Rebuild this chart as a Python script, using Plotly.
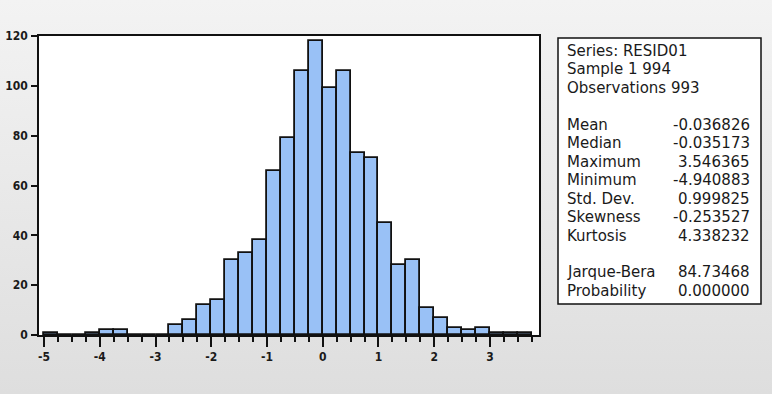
import base64
import plotly.graph_objects as go

# ---------------- data ----------------
bin_left_edges = [-5.00, -4.75, -4.50, -4.25, -4.00, -3.75, -3.50, -3.25, -3.00, -2.75,
                  -2.50, -2.25, -2.00, -1.75, -1.50, -1.25, -1.00, -0.75, -0.50, -0.25,
                  0.00, 0.25, 0.50, 0.75, 1.00, 1.25, 1.50, 1.75, 2.00, 2.25,
                  2.50, 2.75, 3.00, 3.25, 3.50]
bin_counts = [1, 0, 0, 1, 2, 2, 0, 0, 0, 4,
              6, 12, 14, 30, 33, 38, 66, 79, 106, 118,
              99, 106, 73, 71, 45, 28, 30, 11, 7, 3,
              2, 3, 1, 1, 1]
bin_width = 0.25

x_tick_vals = [-5, -4, -3, -2, -1, 0, 1, 2, 3]
x_tick_text = ["-5", "-4", "-3", "-2", "-1", "0", "1", "2", "3"]
y_tick_vals = [0, 20, 40, 60, 80, 100, 120]
y_tick_text = ["0", "20", "40", "60", "80", "100", "120"]

header_lines = ["Series: RESID01", "Sample 1 994", "Observations 993"]
stat_labels = ["Mean", "Median", "Maximum", "Minimum", "Std. Dev.", "Skewness", "Kurtosis"]
stat_values = ["-0.036826", "-0.035173", "3.546365", "-4.940883", "0.999825", "-0.253527", "4.338232"]
test_labels = ["Jarque-Bera", "Probability"]
test_values = ["84.73468", "0.000000"]

# ---------------- layout geometry (pixels) ----------------
W, H = 772, 394
PL, PR, PT, PB = 39, 539, 36, 335  # plot area box in pixels
PW, PH = PR - PL, PB - PT


def px_x(px):
    return (px - PL) / PW


def px_y(py):
    return (PB - py) / PH


fig = go.Figure()

fig.add_trace(go.Bar(
    x=bin_left_edges,
    y=bin_counts,
    width=bin_width,
    offset=0,
    marker=dict(color="#99c1f6", line=dict(color="#111111", width=1.8)),
    hoverinfo="x+y",
    showlegend=False,
))

tick_font = dict(family="DejaVu Sans Condensed, Liberation Sans Narrow, DejaVu Sans",
                 size=12, color="#1a1a1a", weight="bold")

fig.update_xaxes(
    range=[-5.09, 3.88],
    automargin=False,
    tickmode="array", tickvals=x_tick_vals, ticktext=x_tick_text,
    ticks="outside", ticklen=10, tickwidth=1.5, tickcolor="#111111",
    minor=dict(ticks="outside", ticklen=5, tickwidth=1.5, tickcolor="#111111",
               dtick=bin_width, tick0=0, showgrid=False),
    showline=True, linecolor="#111111", linewidth=1.6, mirror=True,
    showgrid=False, zeroline=False,
    tickfont=tick_font,
)
fig.update_yaxes(
    range=[0, 120],
    automargin=False,
    tickmode="array", tickvals=y_tick_vals, ticktext=y_tick_text,
    ticks="outside", ticklen=6, tickwidth=1.5, tickcolor="#111111",
    showline=True, linecolor="#111111", linewidth=1.6, mirror=True,
    showgrid=False, zeroline=False,
    tickfont=tick_font,
    ticklabelstandoff=1,
)

# background gradient (whole figure), drawn below; white plot area on top of it
svg = (
    "<svg xmlns='http://www.w3.org/2000/svg' width='772' height='394' preserveAspectRatio='none'>"
    "<defs><linearGradient id='g' x1='0' y1='0' x2='0' y2='1'>"
    "<stop offset='0' stop-color='rgb(243,243,243)'/>"
    "<stop offset='1' stop-color='rgb(222,222,222)'/>"
    "</linearGradient></defs>"
    "<rect width='772' height='394' fill='url(#g)'/></svg>"
)
svg_uri = "data:image/svg+xml;base64," + base64.b64encode(svg.encode()).decode()
fig.add_layout_image(
    source=svg_uri, xref="paper", yref="paper",
    x=px_x(0), y=px_y(0), sizex=W / PW, sizey=H / PH,
    xanchor="left", yanchor="top", sizing="stretch", layer="below",
)
fig.add_shape(type="rect", xref="paper", yref="paper", x0=0, x1=1, y0=0, y1=1,
              line=dict(width=0), fillcolor="white", layer="below")

# stats box
fig.add_shape(type="rect", xref="paper", yref="paper",
              x0=px_x(558), x1=px_x(761), y0=px_y(304), y1=px_y(38),
              line=dict(color="#111111", width=1.5), fillcolor="white", layer="above")

txt_font = dict(family="DejaVu Sans", size=15, color="#1a1a1a")
first_y = 51
line_step = 18.45
label_x = 565
value_right_x = 752

rows = []
for h in header_lines:
    rows.append((h, None))
rows.append((None, None))
for lab, val in zip(stat_labels, stat_values):
    rows.append((lab, val))
rows.append((None, None))
for lab, val in zip(test_labels, test_values):
    rows.append((lab, val))

for i, (lab, val) in enumerate(rows):
    yy = px_y(first_y + i * line_step)
    if lab is not None:
        fig.add_annotation(x=px_x(label_x), y=yy, xref="paper", yref="paper",
                           text=lab, showarrow=False, xanchor="left", yanchor="middle",
                           font=txt_font)
    if val is not None:
        fig.add_annotation(x=px_x(value_right_x), y=yy, xref="paper", yref="paper",
                           text=val, showarrow=False, xanchor="right", yanchor="middle",
                           font=txt_font)

fig.update_layout(
    width=W, height=H,
    margin=dict(l=PL, r=W - PR, t=PT, b=H - PB, pad=0),
    paper_bgcolor="#ebebeb",
    plot_bgcolor="white",
    bargap=0,
)

fig.write_html("out.html", config={"displayModeBar": False},
               post_script="document.body.style.margin='0';document.body.style.overflow='hidden';")
